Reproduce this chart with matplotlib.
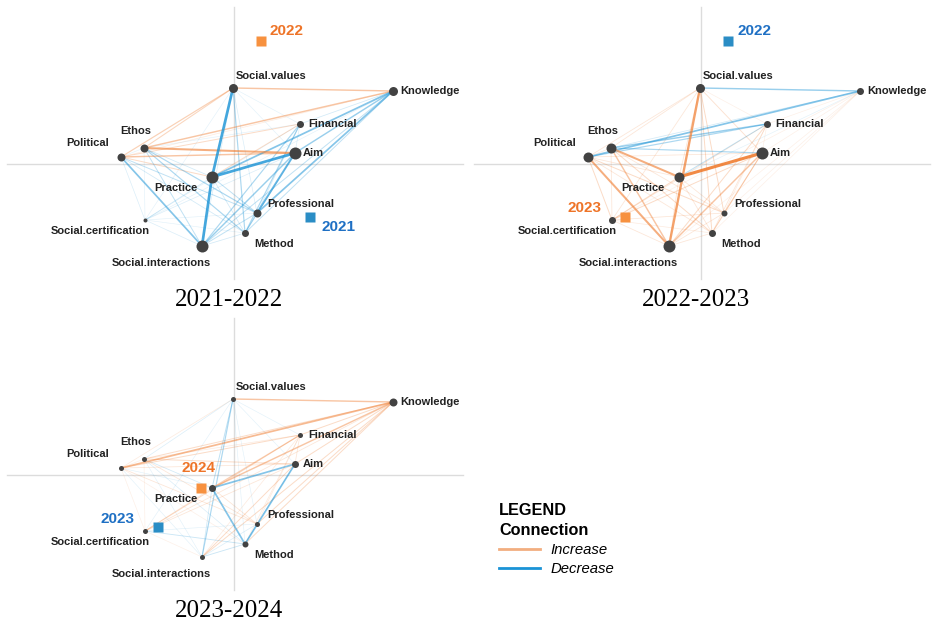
import matplotlib.pyplot as plt
from matplotlib.lines import Line2D

plt.rcParams['font.family'] = 'Liberation Sans'

# Codes (nodes) and their positions in the projected space
codes = ['Political', 'Ethos', 'Social.values', 'Knowledge', 'Financial', 'Aim',
         'Practice', 'Professional', 'Method', 'Social.certification', 'Social.interactions']
keys = ['PO', 'ET', 'SV', 'KN', 'FI', 'AI', 'PR', 'PF', 'ME', 'SC', 'SI']
node_x = [-1.13, -0.90, -0.01, 1.59, 0.66, 0.61, -0.22, 0.23, 0.11, -0.89, -0.32]
node_y = [0.07, 0.16, 0.76, 0.73, 0.40, 0.11, -0.13, -0.49, -0.69, -0.56, -0.82]

# node sizes (weighted occurrence) per comparison
size_2122 = [8, 8, 9, 9, 7, 12, 12, 8, 7, 4, 12]
size_2223 = [10, 10, 9, 7, 7, 12, 10, 6, 7, 7, 12]
size_2324 = [5, 5, 5, 8, 5, 7, 7, 5, 6, 5, 5]

# edge differences: positive = increase, negative = decrease
edges_2122 = [
    ('PO', 'ET', -0.1), ('PO', 'SV', 0.4), ('PO', 'KN', 0.15), ('PO', 'FI', 0.3), ('PO', 'AI', 0.5),
    ('PO', 'PR', 0.3), ('PO', 'PF', -0.3), ('PO', 'ME', -0.2), ('PO', 'SC', -0.15), ('PO', 'SI', -0.6),
    ('ET', 'SV', 0.35), ('ET', 'KN', 0.5), ('ET', 'FI', -0.1), ('ET', 'AI', 0.7), ('ET', 'PR', -0.2),
    ('ET', 'PF', -0.4), ('ET', 'ME', -0.4), ('ET', 'SC', -0.1), ('ET', 'SI', -0.3),
    ('SV', 'KN', 0.5), ('SV', 'FI', -0.1), ('SV', 'AI', -0.1), ('SV', 'PR', -0.9), ('SV', 'PF', -0.15),
    ('SV', 'ME', -0.4), ('SV', 'SC', -0.1), ('SV', 'SI', -0.15),
    ('KN', 'FI', -0.2), ('KN', 'AI', -0.5), ('KN', 'PR', -0.6), ('KN', 'PF', -0.6), ('KN', 'ME', -0.3),
    ('KN', 'SC', -0.1), ('KN', 'SI', -0.3),
    ('FI', 'AI', -0.15), ('FI', 'PR', 0.3), ('FI', 'PF', -0.2), ('FI', 'ME', -0.4), ('FI', 'SC', -0.1),
    ('FI', 'SI', -0.4),
    ('AI', 'PR', -0.9), ('AI', 'PF', -0.7), ('AI', 'ME', -0.3), ('AI', 'SC', -0.15), ('AI', 'SI', -0.5),
    ('PR', 'PF', -0.3), ('PR', 'ME', -0.2), ('PR', 'SC', -0.2), ('PR', 'SI', -0.9),
    ('PF', 'ME', -0.3), ('PF', 'SC', -0.1), ('PF', 'SI', -0.3),
    ('ME', 'SC', -0.1), ('ME', 'SI', -0.2), ('SC', 'SI', -0.15),
]
edges_2223 = [
    ('PO', 'ET', 0.15), ('PO', 'SV', 0.2), ('PO', 'KN', -0.6), ('PO', 'FI', -0.4), ('PO', 'AI', 0.2),
    ('PO', 'PR', 0.2), ('PO', 'PF', 0.3), ('PO', 'ME', 0.2), ('PO', 'SC', 0.3), ('PO', 'SI', 0.7),
    ('ET', 'SV', 0.2), ('ET', 'KN', -0.2), ('ET', 'FI', -0.5), ('ET', 'AI', -0.4), ('ET', 'PR', 0.7),
    ('ET', 'PF', 0.2), ('ET', 'ME', 0.3), ('ET', 'SC', 0.2), ('ET', 'SI', 0.5),
    ('SV', 'KN', -0.5), ('SV', 'FI', 0.1), ('SV', 'AI', 0.25), ('SV', 'PR', 0.2), ('SV', 'PF', 0.3),
    ('SV', 'ME', 0.3), ('SV', 'SC', 0.2), ('SV', 'SI', 0.8),
    ('KN', 'FI', 0.1), ('KN', 'AI', 0.1), ('KN', 'PR', -0.1), ('KN', 'PF', 0.1), ('KN', 'ME', 0.1),
    ('KN', 'SC', 0.1), ('KN', 'SI', 0.1),
    ('FI', 'AI', 0.1), ('FI', 'PR', -0.3), ('FI', 'PF', 0.15), ('FI', 'ME', 0.2), ('FI', 'SC', 0.2),
    ('FI', 'SI', 0.3),
    ('AI', 'PR', 1.0), ('AI', 'PF', 0.3), ('AI', 'ME', 0.3), ('AI', 'SC', 0.3), ('AI', 'SI', 0.5),
    ('PR', 'PF', 0.2), ('PR', 'ME', 0.2), ('PR', 'SC', 0.3), ('PR', 'SI', 0.2),
    ('PF', 'ME', 0.15), ('PF', 'SC', 0.2), ('PF', 'SI', 0.2),
    ('ME', 'SC', 0.15), ('ME', 'SI', 0.2), ('SC', 'SI', 0.2),
]
edges_2324 = [
    ('PO', 'ET', 0.1), ('PO', 'SV', 0.15), ('PO', 'KN', 0.6), ('PO', 'FI', 0.3), ('PO', 'AI', 0.2),
    ('PO', 'PR', -0.1), ('PO', 'PF', 0.2), ('PO', 'ME', 0.1), ('PO', 'SC', 0.1), ('PO', 'SI', -0.1),
    ('ET', 'SV', -0.15), ('ET', 'KN', 0.3), ('ET', 'FI', 0.15), ('ET', 'AI', 0.3), ('ET', 'PR', -0.2),
    ('ET', 'PF', 0.2), ('ET', 'ME', -0.15), ('ET', 'SC', 0.1), ('ET', 'SI', -0.1),
    ('SV', 'KN', 0.5), ('SV', 'FI', -0.1), ('SV', 'AI', -0.1), ('SV', 'PR', -0.3), ('SV', 'PF', -0.1),
    ('SV', 'ME', -0.1), ('SV', 'SC', -0.1), ('SV', 'SI', -0.4),
    ('KN', 'FI', 0.3), ('KN', 'AI', 0.3), ('KN', 'PR', 0.5), ('KN', 'PF', 0.3), ('KN', 'ME', 0.3),
    ('KN', 'SC', 0.2), ('KN', 'SI', 0.3),
    ('FI', 'AI', 0.2), ('FI', 'PR', 0.4), ('FI', 'PF', 0.15), ('FI', 'ME', 0.15), ('FI', 'SC', 0.3),
    ('FI', 'SI', 0.15),
    ('AI', 'PR', -0.6), ('AI', 'PF', -0.2), ('AI', 'ME', -0.6), ('AI', 'SC', 0.2), ('AI', 'SI', 0.3),
    ('PR', 'PF', 0.2), ('PR', 'ME', -0.6), ('PR', 'SC', 0.2), ('PR', 'SI', -0.2),
    ('PF', 'ME', -0.3), ('PF', 'SC', -0.1), ('PF', 'SI', -0.15),
    ('ME', 'SC', -0.25), ('ME', 'SI', -0.25), ('SC', 'SI', 0.1),
]

# group means (year, x, y, increase-side?)
means_2122 = [('2021', 0.76, -0.53, False), ('2022', 0.27, 1.23, True)]
means_2223 = [('2022', 0.27, 1.23, False), ('2023', -0.76, -0.53, True)]
means_2324 = [('2023', -0.76, -0.52, False), ('2024', -0.33, -0.13, True)]

ORANGE = '#F07E32'
BLUE = '#1A93D6'
ORANGE_TXT = '#EE7428'
BLUE_TXT = '#1F70C4'
SQ_ORANGE = '#F7913F'
SQ_BLUE = '#2A8DC5'

# label offsets in pixels (dx, dy, ha)
label_off = {
    'PO': (-12, 14, 'right'), 'ET': (-8, 17, 'center'), 'SV': (3, 12, 'left'),
    'KN': (7, 0, 'left'), 'FI': (8, 0, 'left'), 'AI': (8, 0, 'left'),
    'PR': (-14, -11, 'right'), 'PF': (10, 9, 'left'), 'ME': (9, -11, 'left'),
    'SC': (5, -11, 'right'), 'SI': (-41, -17, 'center'),
}

W, H = 932, 624
fig = plt.figure(figsize=(W / 100, H / 100), dpi=100)


def panel_axes(x0, y0, w, h, ox, oy):
    ax = fig.add_axes([x0 / W, 1 - (y0 + h) / H, w / W, h / H])
    ax.set_xlim((x0 - ox) / 100, (x0 + w - ox) / 100)
    ax.set_ylim(-(y0 + h - oy) / 100, (oy - y0) / 100)
    ax.axis('off')
    return ax


def draw_panel(ax, edges, sizes, means, mean_offs, title):
    ax.plot([-2.27, 2.29], [0, 0], color='#dcdcdc', lw=1.0, zorder=0)
    ax.plot([0, 0], [-1.15, 1.57], color='#dcdcdc', lw=1.0, zorder=0)
    idx = {k: i for i, k in enumerate(keys)}
    for a, b, w in sorted(edges, key=lambda e: abs(e[2])):
        i, j = idx[a], idx[b]
        col = ORANGE if w > 0 else BLUE
        s = abs(w)
        ax.plot([node_x[i], node_x[j]], [node_y[i], node_y[j]], color=col,
                lw=0.4 + 1.8 * s ** 1.5, alpha=min(1, 0.06 + 0.85 * s ** 1.15),
                solid_capstyle='round', zorder=1)
    for i, k in enumerate(keys):
        ax.plot(node_x[i], node_y[i], 'o', ms=sizes[i] * 0.72, color='#424242',
                mec='none', zorder=3)
        dx, dy, ha = label_off[k]
        ax.annotate(codes[i], (node_x[i], node_y[i]), xytext=(dx, dy),
                    textcoords='offset pixels', ha=ha, va='center',
                    fontsize=8, fontweight='bold', color='#222222', zorder=4)
    for (yr, mx, my, inc), (dx, dy, ha) in zip(means, mean_offs):
        ax.plot(mx, my, 's', ms=7.4, color=SQ_ORANGE if inc else SQ_BLUE,
                mec='none', zorder=5)
        ax.annotate(yr, (mx, my), xytext=(dx, dy), textcoords='offset pixels',
                    ha=ha, va='center', fontsize=11, fontweight='bold',
                    color=ORANGE_TXT if inc else BLUE_TXT, zorder=5)
    ax.text(-0.05, -1.36, title, ha='center', va='center', fontsize=18,
            family='Liberation Serif', clip_on=False)


ax1 = panel_axes(0, 0, 466, 316, 234, 164)
draw_panel(ax1, edges_2122, size_2122, means_2122,
           [(11, -10, 'left'), (9, 10, 'left')], '2021-2022')

ax2 = panel_axes(466, 0, 466, 316, 701, 164)
draw_panel(ax2, edges_2223, size_2223, means_2223,
           [(9, 10, 'left'), (-23, 9, 'right')], '2022-2023')

ax3 = panel_axes(0, 316, 466, 308, 234, 475)
draw_panel(ax3, edges_2324, size_2324, means_2324,
           [(-23, 8, 'right'), (-2, 20, 'center')], '2023-2024')

# legend
handles = [Line2D([0], [0], color='#F2AE80', lw=2),
           Line2D([0], [0], color=BLUE, lw=2)]
leg = fig.legend(handles, ['Increase', 'Decrease'], title='LEGEND\nConnection',
                 loc='upper left', bbox_to_anchor=(486 / W, 1 - 490 / H),
                 frameon=False, alignment='left', handlelength=2.7,
                 handletextpad=0.75, labelspacing=0.35,
                 prop={'style': 'italic', 'size': 10.7},
                 title_fontproperties={'weight': 'bold', 'size': 11.7})
leg.get_title().set_linespacing(1.35)

fig.savefig('out.png', dpi=100)
